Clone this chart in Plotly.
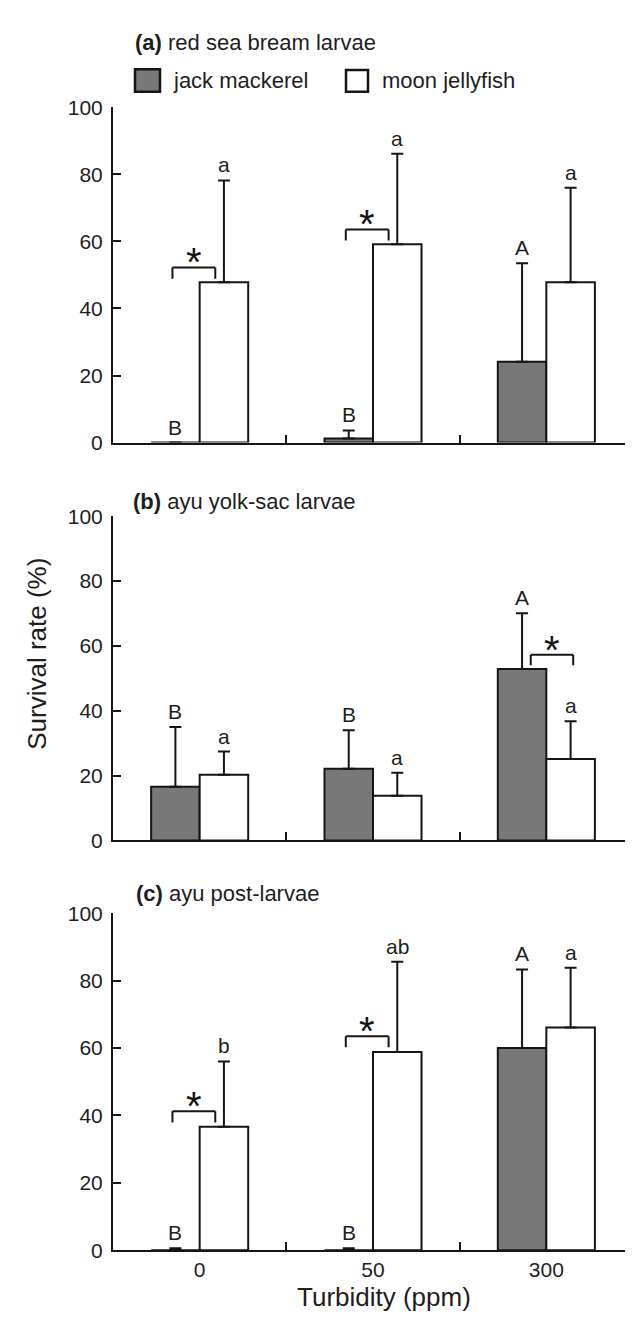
import plotly.graph_objects as go

# ---------------- data ----------------
categories = ["0", "50", "300"]

# (a) red sea bream larvae
jack_a = [0.0, 1.2, 24.1]
jack_a_err = [0.0, 2.4, 29.4]
moon_a = [47.8, 59.2, 47.8]
moon_a_err = [30.4, 27.0, 28.2]
jack_a_letters = ["B", "B", "A"]
moon_a_letters = ["a", "a", "a"]
sig_a = [(0, 52.2), (1, 63.6)]          # (group index, bracket height)

# (b) ayu yolk-sac larvae
jack_b = [16.6, 22.1, 52.9]
jack_b_err = [18.4, 11.9, 17.2]
moon_b = [20.3, 13.8, 25.1]
moon_b_err = [7.1, 7.1, 11.7]
jack_b_letters = ["B", "B", "A"]
moon_b_letters = ["a", "a", "a"]
sig_b = [(2, 57.3)]

# (c) ayu post-larvae
jack_c = [0.0, 0.0, 60.0]
jack_c_err = [0.6, 0.6, 23.3]
moon_c = [36.6, 58.8, 66.1]
moon_c_err = [19.4, 26.8, 17.7]
jack_c_letters = ["B", "B", "A"]
moon_c_letters = ["b", "ab", "a"]
sig_c = [(0, 41.2), (1, 63.5)]

panel_titles = ["(a)", "(b)", "(c)"]
panel_names = ["red sea bream larvae", "ayu yolk-sac larvae", "ayu post-larvae"]
series_names = ["jack mackerel", "moon jellyfish"]
x_title = "Turbidity (ppm)"
y_title = "Survival rate (%)"

# ---------------- style ----------------
W, H = 633, 1321
FONT = "Liberation Sans, Arial, sans-serif"
DARK = "#787878"
INK = "#151515"
TXT = "#1e1e1e"

def px(x):
    return x / W

def py(y):
    return 1 - y / H

x_dom = [px(105), px(625)]
y_doms = [[py(430), py(89)], [py(835), py(505)], [py(1252), py(909)]]

panels = [
    (jack_a, jack_a_err, moon_a, moon_a_err, jack_a_letters, moon_a_letters, sig_a),
    (jack_b, jack_b_err, moon_b, moon_b_err, jack_b_letters, moon_b_letters, sig_b),
    (jack_c, jack_c_err, moon_c, moon_c_err, jack_c_letters, moon_c_letters, sig_c),
]

BAR_OFF = 0.14
fig = go.Figure()
annotations = []
shapes = []

for i, (jk, jke, mn, mne, jl, ml, sig) in enumerate(panels):
    sfx = "" if i == 0 else str(i + 1)
    xa, ya = "x" + sfx, "y" + sfx
    for vals, errs, color, name in [(jk, jke, DARK, series_names[0]),
                                    (mn, mne, "white", series_names[1])]:
        fig.add_trace(go.Bar(
            x=categories, y=vals, name=name, xaxis=xa, yaxis=ya,
            marker=dict(color=color, line=dict(color=INK, width=2)),
            error_y=dict(type="data", symmetric=False, array=errs,
                         arrayminus=[0] * len(errs), color=INK,
                         thickness=2, width=6),
            showlegend=False,
        ))
    # letters
    for g in range(len(categories)):
        for off, v, e, lab in [(-BAR_OFF, jk[g], jke[g], jl[g]),
                               (BAR_OFF, mn[g], mne[g], ml[g])]:
            annotations.append(dict(
                x=g + off, y=v + e, xref=xa, yref=ya, text=lab,
                showarrow=False, yanchor="bottom", xanchor="center", yshift=2,
                font=dict(family=FONT, size=21, color=TXT)))
    # significance brackets
    for g, yt in sig:
        if i == 1:
            x0, x1 = g - 0.09, g + 0.155
        else:
            x0, x1 = g - 0.157, g + 0.09
        yb = yt - 3.3
        for (a0, b0, a1, b1) in [(x0, yb, x0, yt), (x0, yt, x1, yt), (x1, yt, x1, yb)]:
            shapes.append(dict(type="line", xref=xa, yref=ya, x0=a0, y0=b0,
                               x1=a1, y1=b1, line=dict(color=INK, width=2)))
        annotations.append(dict(
            x=(x0 + x1) / 2, y=yt + 3.4, xref=xa, yref=ya, text="*",
            showarrow=False, yanchor="middle", xanchor="center", yshift=-6,
            font=dict(family=FONT, size=40, color=INK)))

    # axes
    fig.layout["xaxis" + sfx] = dict(
        domain=x_dom, anchor=ya, type="category", range=[-0.5, 2.5],
        showline=True, linecolor=INK, linewidth=2,
        ticks="inside", ticklen=8, tickwidth=2, tickcolor=INK,
        tickson="boundaries", showgrid=False, zeroline=False,
        showticklabels=(i == 2),
        tickfont=dict(family=FONT, size=21, color=TXT), fixedrange=True)
    fig.layout["yaxis" + sfx] = dict(
        domain=y_doms[i], anchor=xa, range=[0, 100],
        tickvals=[0, 20, 40, 60, 80, 100],
        showline=True, linecolor=INK, linewidth=2,
        ticks="inside", ticklen=8, tickwidth=2, tickcolor=INK,
        showgrid=False, zeroline=False, ticklabelstandoff=4,
        tickfont=dict(family=FONT, size=21, color=TXT), fixedrange=True)

# panel titles
title_pos = [(125, 23), (123, 490), (126, 889)]
for (tx, ty), t, n in zip(title_pos, panel_titles, panel_names):
    annotations.append(dict(
        x=px(tx), y=py(ty), xref="paper", yref="paper",
        text="<b>" + t + "</b> " + n, showarrow=False,
        xanchor="left", yanchor="middle",
        font=dict(family=FONT, size=22, color=TXT)))

# legend (drawn manually to match the large swatches)
shapes.append(dict(type="rect", xref="paper", yref="paper",
                   x0=px(127), x1=px(152), y0=py(73), y1=py(50),
                   fillcolor=DARK, line=dict(color=INK, width=2.5)))
shapes.append(dict(type="rect", xref="paper", yref="paper",
                   x0=px(338), x1=px(360), y0=py(73), y1=py(51),
                   fillcolor="white", line=dict(color=INK, width=2.5)))
for tx, name in [(163, series_names[0]), (372, series_names[1])]:
    annotations.append(dict(
        x=px(tx), y=py(62), xref="paper", yref="paper", text=name,
        showarrow=False, xanchor="left", yanchor="middle",
        font=dict(family=FONT, size=22, color=TXT)))

# axis titles
annotations.append(dict(
    x=px(376), y=py(1300), xref="paper", yref="paper", text=x_title,
    showarrow=False, xanchor="center", yanchor="middle",
    font=dict(family=FONT, size=26, color=TXT)))
annotations.append(dict(
    x=px(29), y=py(645), xref="paper", yref="paper", text=y_title,
    showarrow=False, xanchor="center", yanchor="middle", textangle=-90,
    font=dict(family=FONT, size=26, color=TXT)))

fig.update_layout(
    width=W, height=H, margin=dict(l=0, r=0, t=0, b=0),
    paper_bgcolor="white", plot_bgcolor="white",
    barmode="group", bargap=0.44, bargroupgap=0,
    annotations=annotations, shapes=shapes,
    font=dict(family=FONT, color=TXT),
)

fig.write_html("out.html")
